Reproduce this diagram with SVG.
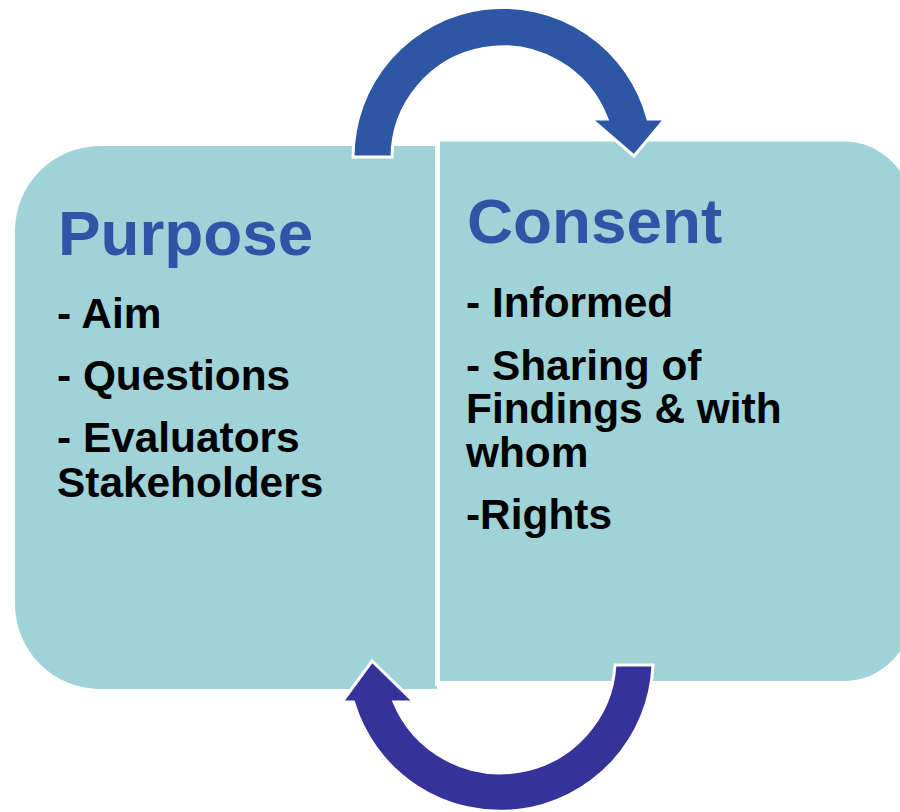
<svg xmlns="http://www.w3.org/2000/svg" width="900" height="812" viewBox="0 0 900 812">
<style>
.box{fill:#9FD3D8;}
.boxr{fill:#9FD3D8;stroke:#FFFFFF;stroke-width:5;}
.title{font-family:"Liberation Sans",Arial,sans-serif;font-weight:bold;font-size:63.8px;fill:#2D56A6;}
.item{font-family:"Liberation Sans",Arial,sans-serif;font-weight:bold;font-size:42.4px;fill:#000000;}
.arrow{stroke:#FFFFFF;stroke-width:3;stroke-linejoin:miter;}
</style>
<rect width="900" height="812" fill="#FFFFFF"/>
<g id="purpose">
<path class="box" d="M437,146 V689 H100 A85,85 0 0 1 15,604 V231 A85,85 0 0 1 100,146 Z"/>
<text class="title" x="58" y="255">Purpose</text>
<text class="item" x="57" y="328">- Aim</text>
<text class="item" x="57" y="390">- Questions</text>
<text class="item" x="57" y="452">- Evaluators</text>
<text class="item" x="57" y="497">Stakeholders</text>
</g>
<g id="consent">
<path class="boxr" d="M437.5,139 H843 A72,72 0 0 1 915,211 V611 A72,72 0 0 1 843,683.5 H437.5 Z"/>
<text class="title" x="467" y="243">Consent</text>
<text class="item" x="466" y="317">- Informed</text>
<text class="item" x="466" y="380">- Sharing of</text>
<text class="item" x="466" y="423">Findings &amp; with</text>
<text class="item" x="466" y="467">whom</text>
<text class="item" x="466" y="529">-Rights</text>
</g>
<g id="connectors">
<path id="arrow-top" class="arrow" fill="#2D56A5" d="M353,157 A150,150 0 0 1 648,119 L665,119 L634,156 L591,119 L607,119 A111,111 0 0 0 392,157 Z"/>
<path id="arrow-bottom" class="arrow" fill="#35339A" d="M653,665 A153,153 0 0 1 353.5,702 L342,702 L372,661 L414,702 L394,702 A115,115 0 0 0 615,665 Z"/>
</g>
</svg>
